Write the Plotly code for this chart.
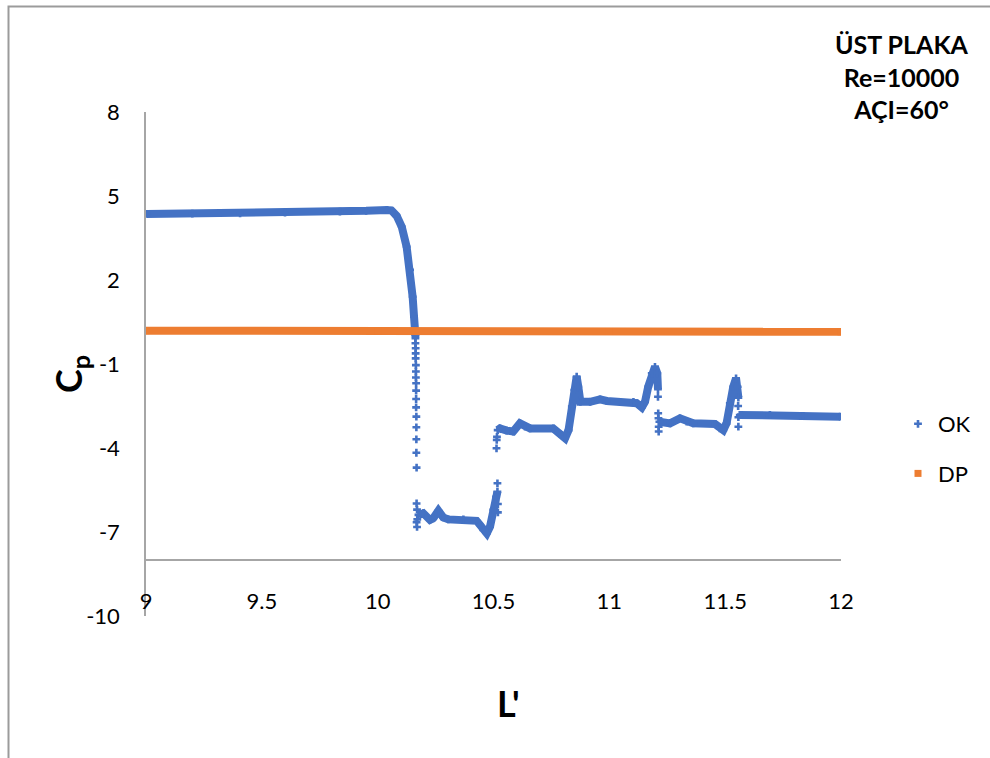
import plotly.graph_objects as go

# ---- OK series: continuous stretches of the pressure profile (None = break) ----
ok_x = [
    9.003, 9.2, 9.406, 9.6, 9.837, 9.95, 10.04, 10.06, 10.082, 10.104, 10.125,
    10.140, 10.151, 10.157, 10.161, 10.163,
    None,
    10.176, 10.197, 10.226, 10.240, 10.262, 10.283, 10.305, 10.370, 10.427,
    10.442, 10.456, 10.471, 10.485, 10.499, 10.511, 10.517,
    None,
    10.518, 10.528, 10.557, 10.585, 10.614, 10.636, 10.658, 10.758, 10.787,
    10.809, 10.824, 10.838, 10.849, 10.859, 10.866, 10.871, 10.875, 10.917,
    10.960, 10.989, 11.104, 11.118, 11.140, 11.154, 11.168, 11.183, 11.197,
    11.207, 11.210,
    None,
    11.216, 11.262, 11.305, 11.334, 11.362, 11.456, 11.477, 11.492, 11.506,
    11.520, 11.535, 11.547, 11.554, 11.557,
    None,
    11.563, 11.693, 11.837, 11.996,
]
ok_y = [
    4.36, 4.37, 4.38, 4.41, 4.44, 4.47, 4.50, 4.48, 4.29, 3.90, 3.19,
    2.36, 1.40, 0.69, 0.21, 0.00,
    None,
    -6.39, -6.33, -6.57, -6.51, -6.24, -6.48, -6.55, -6.55, -6.60,
    -6.75, -6.93, -7.05, -6.81, -6.21, -5.74, -5.56,
    None,
    -3.36, -3.30, -3.38, -3.41, -3.12, -3.24, -3.30, -3.30, -3.50,
    -3.65, -3.36, -2.52, -1.93, -1.45, -1.81, -2.30, -2.35, -2.35,
    -2.26, -2.32, -2.35, -2.40, -2.55, -2.35, -1.81, -1.33, -1.10,
    -1.33, -1.90,
    None,
    -3.06, -3.12, -2.94, -3.06, -3.12, -3.14, -3.30, -3.36, -3.12,
    -2.40, -1.81, -1.51, -1.81, -2.20,
    None,
    -2.82, -2.82, -2.85, -2.88,
]

# ---- OK series: isolated samples across the sharp jumps ----
ok_jump_x = [
    10.163, 10.163, 10.164, 10.164, 10.164, 10.165, 10.165, 10.165, 10.166,
    10.166, 10.166, 10.166, 10.167, 10.167, 10.167, 10.167, 10.168, 10.168,
    10.168, 10.170, 10.171, 10.170,
    10.517, 10.519, 10.519, 10.513, 10.514, 10.515,
    11.210, 11.211, 11.212, 11.213, 11.213,
    11.556, 11.557, 11.557,
]
ok_jump_y = [
    -0.08, -0.26, -0.44, -0.62, -0.80, -1.04, -1.27, -1.48, -1.69,
    -1.95, -2.25, -2.55, -2.88, -3.26, -3.69, -4.17, -4.70, -5.98,
    -6.65, -6.82, -6.55, -6.20,
    -5.26, -6.00, -6.30, -4.01, -3.71, -3.60,
    -2.17, -2.76, -2.94, -3.24, -3.41,
    -2.50, -2.90, -3.24,
]

# ---- DP series ----
dp_x = [9.0, 10.0, 11.0, 12.0]
dp_y = [0.19, 0.18, 0.16, 0.15]

# ---- axes ----
x_range = [9, 12]
x_ticks = [9, 9.5, 10, 10.5, 11, 11.5, 12]
y_range = [-10, 8]
y_ticks = [8, 5, 2, -1, -4, -7, -10]
x_axis_cross = -8

BLUE = "#4472C4"
ORANGE = "#ED7D31"
AXIS = "#A6A6A6"
FONT = "Lato"

fig = go.Figure()

# OK: thick profile line plus the plus-shaped sample markers
fig.add_trace(go.Scatter(
    x=ok_x, y=ok_y, mode="lines", connectgaps=False,
    line=dict(color=BLUE, width=8), legendgroup="ok", showlegend=False,
    hoverinfo="skip",
))
ok_mx = [v for v in ok_x if v is not None] + ok_jump_x
ok_my = [v for v in ok_y if v is not None] + ok_jump_y
fig.add_trace(go.Scatter(
    x=ok_mx, y=ok_my, mode="markers", name="OK", legendgroup="ok",
    marker=dict(symbol="cross", size=6.5, color=BLUE),
))

# DP: near-constant line drawn with square markers
fig.add_trace(go.Scatter(
    x=dp_x, y=dp_y, mode="lines", line=dict(color=ORANGE, width=8),
    legendgroup="dp", showlegend=False, hoverinfo="skip",
))
fig.add_trace(go.Scatter(
    x=dp_x, y=dp_y, mode="markers", name="DP", legendgroup="dp",
    marker=dict(symbol="square", size=7, color=ORANGE),
))

L, R, T, B = 146, 149, 112, 142
W, H = 990, 758
pw, ph = W - L - R, H - T - B


def px_x(p):
    return (p - L) / pw


def px_y(p):
    return (H - B - p) / ph


x_pos = (x_axis_cross - y_range[0]) / (y_range[1] - y_range[0])

fig.update_layout(
    width=W, height=H,
    margin=dict(l=L, r=R, t=T, b=B),
    paper_bgcolor="white", plot_bgcolor="white",
    font=dict(family=FONT, size=22, color="#000000"),
    xaxis=dict(
        range=x_range, tickvals=x_ticks, ticktext=[f"{v:g}" for v in x_ticks],
        showgrid=False, zeroline=False, showline=True, linecolor=AXIS,
        linewidth=1.5, anchor="free", position=x_pos,
        ticks="outside", ticklen=22, tickcolor="rgba(0,0,0,0)",
        tickfont=dict(family=FONT, size=22),
    ),
    yaxis=dict(
        range=y_range, tickvals=y_ticks, ticktext=[str(v) for v in y_ticks],
        showgrid=False, zeroline=False, showline=True, linecolor=AXIS,
        linewidth=1.5, ticks="outside", ticklen=20,
        tickcolor="rgba(0,0,0,0)", tickfont=dict(family=FONT, size=22),
    ),
    legend=dict(
        x=px_x(898), y=px_y(403), xanchor="left", yanchor="top",
        font=dict(family=FONT, size=22), tracegroupgap=18,
        bgcolor="rgba(0,0,0,0)", itemsizing="trace",
    ),
    showlegend=True,
    shapes=[
        dict(type="rect", xref="paper", yref="paper",
             x0=px_x(8.5), x1=px_x(1000), y0=px_y(770), y1=px_y(6.5),
             line=dict(color="#9B9B9B", width=2), fillcolor="rgba(0,0,0,0)",
             layer="below"),
    ],
    annotations=[
        dict(text="<b>ÜST PLAKA<br>Re=10000<br>AÇI=60°</b>",
             xref="paper", yref="paper", x=px_x(902), y=px_y(27),
             xanchor="center", yanchor="top", showarrow=False, align="center",
             font=dict(family=FONT, size=25, color="#000000")),
        dict(text="<b>C<sub>p</sub></b>", textangle=-90,
             xref="paper", yref="paper", x=px_x(71), y=px_y(374),
             xanchor="center", yanchor="middle", showarrow=False,
             font=dict(family=FONT, size=36, color="#000000")),
        dict(text="<b>L'</b>",
             xref="paper", yref="paper", x=px_x(508), y=px_y(703),
             xanchor="center", yanchor="middle", showarrow=False,
             font=dict(family=FONT, size=36, color="#000000")),
    ],
)

fig.write_html("out.html")
